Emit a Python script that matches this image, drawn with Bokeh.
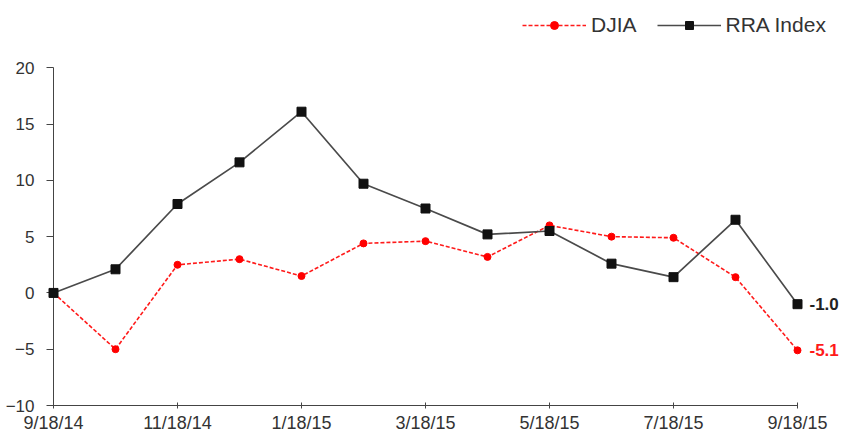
from bokeh.plotting import figure
from bokeh.models import Range1d, FixedTicker, Legend, LegendItem, ColumnDataSource
from bokeh.core.properties import value
from bokeh.embed import file_html
from bokeh.resources import INLINE

# Monthly readings, September 2014 - September 2015
dates = ["9/18/14", "10/18/14", "11/18/14", "12/18/14", "1/18/15", "2/18/15",
         "3/18/15", "4/18/15", "5/18/15", "6/18/15", "7/18/15", "8/18/15", "9/18/15"]
djia = [0, -5.0, 2.5, 3.0, 1.5, 4.4, 4.6, 3.2, 6.0, 5.0, 4.9, 1.4, -5.1]
rra = [0, 2.1, 7.9, 11.6, 16.1, 9.7, 7.5, 5.2, 5.5, 2.6, 1.4, 6.5, -1.0]
y_ticks = [-10, -5, 0, 5, 10, 15, 20]

FONT = "Liberation Sans"
idx = list(range(len(dates)))

p = figure(
    output_backend="svg", toolbar_location=None,
    frame_width=789, frame_height=394,
    min_border_left=53, min_border_right=3, min_border_top=11, min_border_bottom=31,
    x_range=Range1d(0, 789 / 62), y_range=Range1d(-10, 25),
)
p.outline_line_color = None
p.xgrid.visible = False
p.ygrid.visible = False

# axes
ax = p.xaxis[0]
ax.ticker = FixedTicker(ticks=idx[::2])
ax.major_label_overrides = {i: dates[i] for i in idx[::2]}
ax.bounds = (0, len(dates) - 1)
ax.major_tick_in = 3
ax.major_tick_out = 3
ax.minor_tick_line_color = None
ax.major_label_standoff = 4
ax.major_label_text_font_size = "18px"

ay = p.yaxis[0]
ay.ticker = FixedTicker(ticks=y_ticks)
ay.bounds = (-10, 20)
ay.major_tick_in = 0
ay.major_tick_out = 7
ay.minor_tick_line_color = None
ay.major_label_standoff = 12
ay.major_label_text_font_size = "17px"

for a in (ax, ay):
    a.axis_line_color = "#444444"
    a.major_tick_line_color = "#444444"
    a.major_label_text_font = FONT
    a.major_label_text_color = "#333333"

src = ColumnDataSource(dict(x=idx, djia=djia, rra=rra))

# series drawn on the overlay level so the markers on the y axis are not cut off
l_djia = p.line("x", "djia", source=src, line_color="#ff1a1a", line_width=1.6,
                line_dash="4 2", level="overlay")
m_djia = p.scatter("x", "djia", source=src, marker="circle", size=7,
                   fill_color="#ff0000", line_color="#ff0000", level="overlay")
l_rra = p.line("x", "rra", source=src, line_color="#4a4a4a", line_width=1.7, level="overlay")
m_rra = p.scatter("x", "rra", source=src, marker="square", size=9,
                  fill_color="#111111", line_color="#111111", level="overlay")

# end-of-series value labels
last = len(dates) - 1
p.text(x=[last], y=[rra[last]], text=[f"{rra[last]:.1f}"], x_offset=12,
       text_font=value(FONT), text_font_style="bold", text_font_size="17px",
       text_color="#222222", text_baseline="middle", text_align="left", level="overlay")
p.text(x=[last], y=[djia[last]], text=[f"{djia[last]:.1f}"], x_offset=12,
       text_font=value(FONT), text_font_style="bold", text_font_size="17px",
       text_color="#ff1a1a", text_baseline="middle", text_align="left", level="overlay")

legend = Legend(
    items=[LegendItem(label="DJIA", renderers=[l_djia, m_djia]),
           LegendItem(label="RRA Index", renderers=[l_rra, m_rra])],
    location=(469, 368), orientation="horizontal",
    glyph_width=64, glyph_height=20, label_standoff=5, spacing=20, padding=0,
    border_line_alpha=0, background_fill_alpha=0,
    label_text_font=FONT, label_text_font_size="21px", label_text_color="#333333",
)
p.add_layout(legend)

open("out.html", "w").write(file_html(p, INLINE))
